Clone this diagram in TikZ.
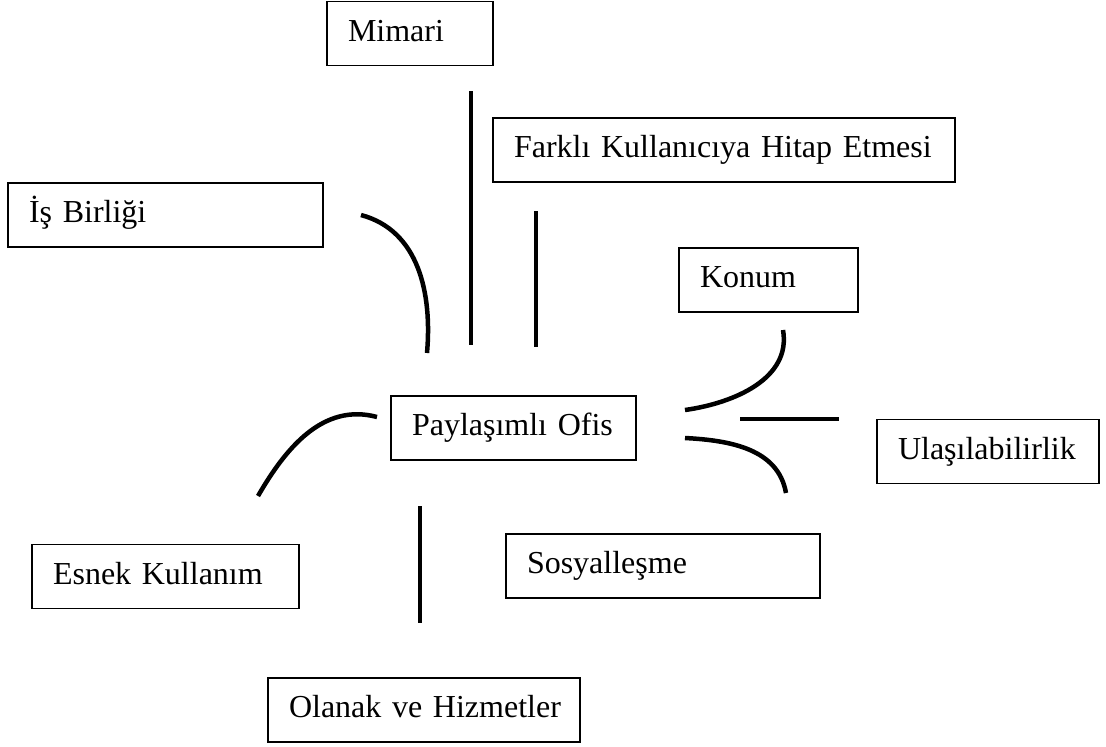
\documentclass[tikz,border=0pt]{standalone}
\usepackage{fontspec}
\setmainfont{Liberation Serif}
\usetikzlibrary{positioning}

\begin{document}
\begin{tikzpicture}[
    x=1pt, y=-1pt,
    topic/.style={draw, line width=1.3pt, rectangle, align=left, inner xsep=0pt,
        text width=#1, minimum height=64pt, text height=22pt, text depth=7pt,
        execute at begin node={\hspace*{21pt}},
        font=\fontsize{32}{38}\selectfont},
    stroke/.style={line width=4.5pt},
]
\useasboundingbox (0,0) rectangle (1106,747);

\node[topic=166pt] (mimari) at (410,33.5) {Mimari};
\node[topic=462pt] (farkli) at (724,150) {Farklı Kullanıcıya Hitap Etmesi};
\node[topic=315pt] (isbirligi) at (165.5,215) {İş Birliği};
\node[topic=179pt] (konum) at (768.5,280) {Konum};
\node[topic=245pt] (ofis) at (513.5,428) {Paylaşımlı Ofis};
\node[topic=222pt] (ulasim) at (988,451.5) {Ulaşılabilirlik};
\node[topic=267pt] (esnek) at (165.5,576.5) {Esnek Kullanım};
\node[topic=314pt] (sosyal) at (663,566) {Sosyalleşme};
\node[topic=312pt] (olanak) at (424,710) {Olanak ve Hizmetler};

% free strokes round the centre
\coordinate (m1) at (471,91);   \coordinate (m2) at (471,345);
\coordinate (f1) at (536,211);  \coordinate (f2) at (536,347);
\coordinate (i1) at (361,215);  \coordinate (i2) at (427,353);
\coordinate (k1) at (783,330);  \coordinate (k2) at (685,410);
\coordinate (u1) at (740,419);  \coordinate (u2) at (839,419);
\coordinate (s1) at (685,438);  \coordinate (s2) at (786,493);
\coordinate (e1) at (377,417);  \coordinate (e2) at (258,496);
\coordinate (o1) at (420,506);  \coordinate (o2) at (420,623);

\draw[stroke] (m1) -- (m2);
\draw[stroke] (f1) -- (f2);
\draw[stroke] (i1) to[out=-15, in=85] (i2);
\draw[stroke] (k1) to[out=-80, in=8] (k2);
\draw[stroke] (u1) -- (u2);
\draw[stroke] (s1) to[out=-3, in=100] (s2);
\draw[stroke] (e1) to[out=165, in=60] (e2);
\draw[stroke] (o1) -- (o2);

\end{tikzpicture}
\end{document}
